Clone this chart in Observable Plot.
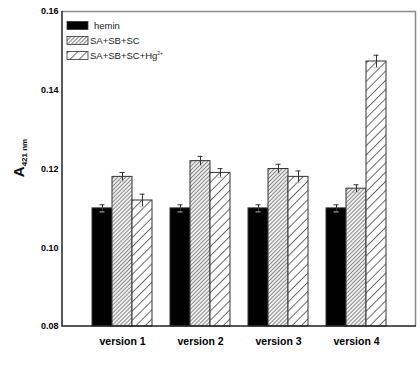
<!DOCTYPE html>
<html><head><meta charset="utf-8">
<script src="https://cdn.jsdelivr.net/npm/d3@7"></script>
<script src="https://cdn.jsdelivr.net/npm/@observablehq/plot@0.6"></script>
<style>body{margin:0;background:#fff}</style>
</head><body><div id="chart"></div>
<script>
const versions = ["version 1", "version 2", "version 3", "version 4"];
const series = ["hemin", "SA+SB+SC", "SA+SB+SC+Hg2+"];
const heminValues = [0.110, 0.110, 0.110, 0.110];
const heminErrors = [0.0009, 0.0009, 0.0009, 0.0009];
const sabcValues = [0.118, 0.122, 0.120, 0.115];
const sabcErrors = [0.0011, 0.0012, 0.0012, 0.0010];
const hgValues = [0.112, 0.119, 0.118, 0.1473];
const hgErrors = [0.0016, 0.0011, 0.0015, 0.0016];
const yTicks = [0.08, 0.10, 0.12, 0.14, 0.16];

const valueSets = [heminValues, sabcValues, hgValues];
const errorSets = [heminErrors, sabcErrors, hgErrors];
const data = [];
versions.forEach((v, i) => series.forEach((s, j) => data.push({
  version: v, series: s, value: valueSets[j][i], err: errorSets[j][i]
})));

const fills = ["black", "url(#hatchDense)", "url(#hatchSparse)"];

const plot = Plot.plot({
  width: 420, height: 366,
  marginLeft: 62, marginRight: 4, marginTop: 11, marginBottom: 40,
  style: {fontFamily: "'Liberation Sans', Arial, sans-serif", background: "white"},
  fx: {domain: versions, paddingInner: 0.2, paddingOuter: 0.356, label: null},
  x: {domain: series, padding: 0, axis: null},
  y: {domain: [0.08, 0.16], ticks: yTicks, tickFormat: d3.format(".2f"), label: null},
  color: {domain: series, range: fills},
  marks: [
    Plot.barY(data, {fx: "version", x: "series", y1: 0.08, y2: "value", fill: "series", stroke: "#333", strokeWidth: 1}),
    Plot.ruleX(data, {fx: "version", x: "series", y1: d => d.value - d.err, y2: d => d.value + d.err, stroke: "#333", strokeWidth: 1}),
    Plot.tickY(data, {fx: "version", x: "series", y: d => d.value + d.err, stroke: "#333", strokeWidth: 1, inset: 7.5}),
    Plot.tickY(data, {fx: "version", x: "series", y: d => d.value - d.err, stroke: "#bbb", strokeWidth: 1, inset: 7.5}),
    Plot.axisY({ticks: yTicks, tickFormat: d3.format(".2f"), tickSize: 0, tickPadding: 33, fontSize: 9, fontWeight: "bold", label: null}),
    Plot.axisFx({anchor: "bottom", tickSize: 0, tickPadding: 11, fontSize: 10.5, fontWeight: "bold", label: null})
  ]
});

const svg = d3.select(plot);
const defs = svg.insert("defs", ":first-child");
const p1 = defs.append("pattern").attr("id", "hatchDense").attr("patternUnits", "userSpaceOnUse")
  .attr("width", 2.8).attr("height", 10).attr("patternTransform", "rotate(45)");
p1.append("rect").attr("width", 2.8).attr("height", 10).attr("fill", "#f2f2f2");
p1.append("line").attr("x1", 0.5).attr("y1", 0).attr("x2", 0.5).attr("y2", 10).attr("stroke", "#777").attr("stroke-width", 0.9);
const p2 = defs.append("pattern").attr("id", "hatchSparse").attr("patternUnits", "userSpaceOnUse")
  .attr("width", 6.5).attr("height", 10).attr("patternTransform", "rotate(45)");
p2.append("rect").attr("width", 6.5).attr("height", 10).attr("fill", "white");
p2.append("line").attr("x1", 0.5).attr("y1", 0).attr("x2", 0.5).attr("y2", 10).attr("stroke", "#555").attr("stroke-width", 0.9);

// frame: top/right gray, left/bottom dark
svg.append("path").attr("d", "M62,11.5H415.5V326").attr("fill", "none").attr("stroke", "#888").attr("stroke-width", 1.5);
svg.append("path").attr("d", "M62,11V326H416").attr("fill", "none").attr("stroke", "#222").attr("stroke-width", 1.5);

// legend
const leg = svg.append("g").attr("font-family", "'Liberation Sans', Arial, sans-serif").attr("font-size", 9.5).attr("text-anchor", "start");
const legY = [21.5, 36.5, 51.5];
series.forEach((s, j) => {
  leg.append("rect").attr("x", 67).attr("y", legY[j]).attr("width", 21).attr("height", 8)
    .attr("fill", fills[j]).attr("stroke", "#333").attr("stroke-width", 0.8);
  const t = leg.append("text").attr("x", j === 0 ? 94 : 90).attr("y", legY[j] + 7.8).attr("fill", "#222");
  if (j === 2) {
    t.text("SA+SB+SC+Hg");
    t.append("tspan").attr("font-size", 5).attr("dy", -4).text("2+");
  } else t.text(s);
});

// y label
const yl = svg.append("text").attr("transform", "translate(24,158) rotate(-90)")
  .attr("text-anchor", "middle").attr("font-family", "'Liberation Sans', Arial, sans-serif")
  .attr("font-weight", "bold").attr("fill", "#111");
yl.append("tspan").attr("font-size", 15).text("A");
yl.append("tspan").attr("font-size", 8).attr("dy", 3).text("421 nm");

document.getElementById("chart").append(plot);
</script></body></html>
